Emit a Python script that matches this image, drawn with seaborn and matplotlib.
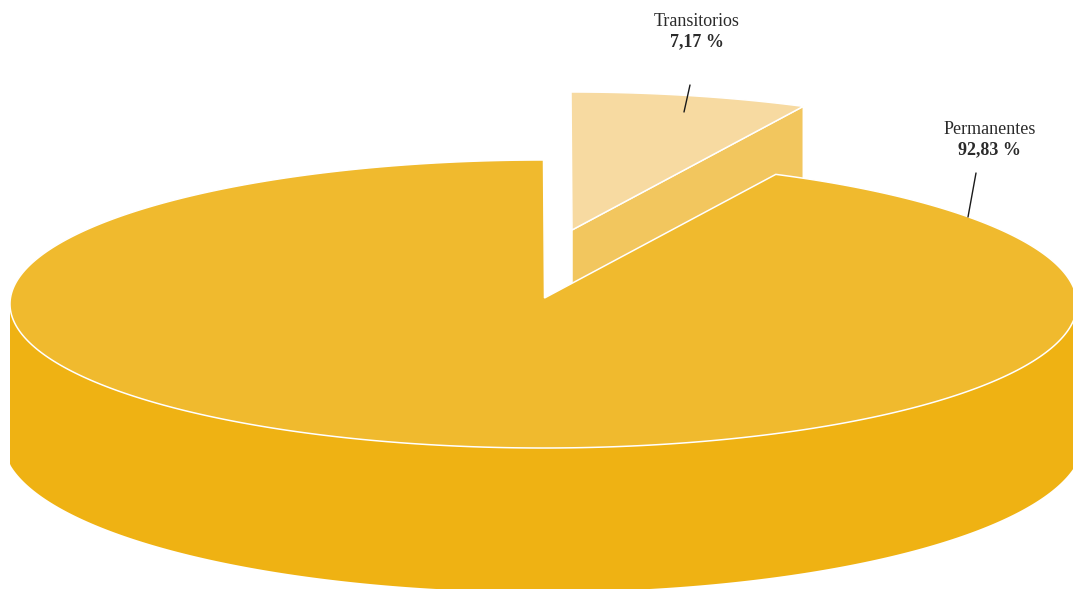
import numpy as np
import matplotlib
matplotlib.use("Agg")
import matplotlib.pyplot as plt
import seaborn as sns

# Share of staff by contract type
categories = ["Permanentes", "Transitorios"]
shares = [92.83, 7.17]
value_labels = ["92,83 %", "7,17 %"]

sns.set_theme(style="white")
plt.rcParams["font.family"] = ["Liberation Serif", "DejaVu Serif"]

top_colors = {"Permanentes": "#F0BA2E", "Transitorios": "#F7DAA1"}
side_colors = {"Permanentes": "#EFB213", "Transitorios": "#F2C65E"}

# projected disc geometry (pixel space)
cx, cy, rx, ry_top = 543.5, 304.0, 533.5, 144.0
apex = np.array([544.5, 298.0])
cx_bottom, cy_bottom, rx_bottom, ry_bottom = 543.0, 440.0, 540.0, 152.0
depth = 160.0
explode = {"Permanentes": np.array([0.0, 0.0]),
           "Transitorios": np.array([27.5, -68.0])}


def rim(theta_deg, off):
    t = np.radians(theta_deg)
    return np.column_stack([cx + rx * np.cos(t) + off[0],
                            cy - ry_top * np.sin(t) + off[1]])


def rim_bottom(theta_deg, off):
    t = np.radians(theta_deg)
    x = cx_bottom + rx_bottom * np.cos(t) + off[0]
    # the wall's silhouette stays vertical below the top rim's extremes
    x = np.clip(x, cx - rx + off[0], cx + rx + off[0])
    return np.column_stack([x, cy_bottom - ry_bottom * np.sin(t) + off[1]])


fig = plt.figure(figsize=(10.73, 5.89), dpi=100)
ax = fig.add_axes([0, 0, 1, 1])
ax.set_xlim(0, 1073)
ax.set_ylim(589, 0)
ax.axis("off")

# slice spans, starting at 12 o'clock and running clockwise
total = sum(shares)
span = {c: 360.0 * v / total for c, v in zip(categories, shares)}
t_start = 90.0 - span["Transitorios"]
spans = {"Transitorios": (t_start, 90.0),
         "Permanentes": (90.0, 90.0 + span["Permanentes"])}

edge = dict(edgecolor="white", linewidth=1.1, joinstyle="miter")

# small slice: radial side face then top face
off = explode["Transitorios"]
a0, a1 = spans["Transitorios"]
p_apex = apex + off
p_rim = rim(np.array([a0]), off)[0]
side = np.array([p_apex, p_rim, p_rim + [0, depth], p_apex + [0, depth]])
ax.fill(side[:, 0], side[:, 1], color=side_colors["Transitorios"], zorder=1, **edge)
arc = rim(np.linspace(a0, a1, 60), off)
top = np.vstack([p_apex, arc, p_apex])
ax.fill(top[:, 0], top[:, 1], color=top_colors["Transitorios"], zorder=2, **edge)

# large slice: outer wall (front half) then top face
off = explode["Permanentes"]
b0, b1 = spans["Permanentes"]
th = np.linspace(180.0, 360.0, 240)
wall = np.vstack([rim(th, off), rim_bottom(th[::-1], off)])
ax.fill(wall[:, 0], wall[:, 1], color=side_colors["Permanentes"], zorder=3, linewidth=0)
arc = rim(np.linspace(b0, b1, 600), off)
top = np.vstack([apex + off, arc, apex + off])
ax.fill(top[:, 0], top[:, 1], color=top_colors["Permanentes"], zorder=4, **edge)

# labels with leader lines
text_kw = dict(ha="center", va="center", color="#2b2b2b", fontsize=13, zorder=6)
label_pos = {"Transitorios": (697, 22), "Permanentes": (990, 130)}
leaders = {"Transitorios": ((690, 85), (684, 112)),
           "Permanentes": ((976, 173), (968, 217))}
for cat, vlab in zip(categories, value_labels):
    x, y = label_pos[cat]
    ax.text(x, y, cat, **text_kw)
    ax.text(x, y + 20, vlab, fontweight="bold", **text_kw)
    (x0, y0), (x1, y1) = leaders[cat]
    ax.plot([x0, x1], [y0, y1], color="#1a1a1a", linewidth=1.0, zorder=6)

fig.savefig("out.png", dpi=100)
